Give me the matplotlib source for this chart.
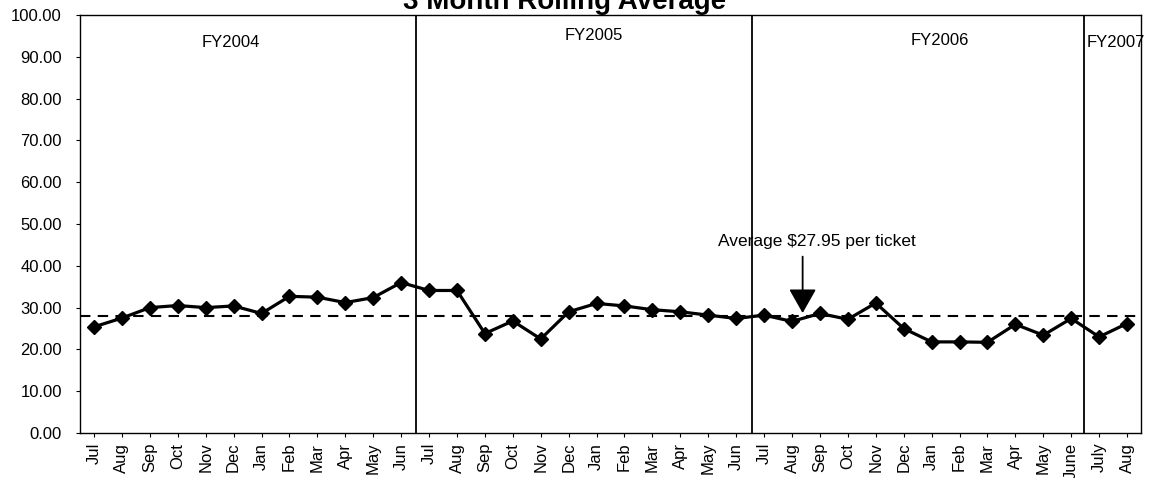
import matplotlib
matplotlib.use("Agg")
import matplotlib.pyplot as plt
import numpy as np

plt.rcParams['font.family'] = ['Liberation Sans', 'DejaVu Sans']

# month labels, FY2004 .. FY2007
months = ['Jul', 'Aug', 'Sep', 'Oct', 'Nov', 'Dec', 'Jan', 'Feb', 'Mar', 'Apr', 'May', 'Jun',
          'Jul', 'Aug', 'Sep', 'Oct', 'Nov', 'Dec', 'Jan', 'Feb', 'Mar', 'Apr', 'May', 'Jun',
          'Jul', 'Aug', 'Sep', 'Oct', 'Nov', 'Dec', 'Jan', 'Feb', 'Mar', 'Apr', 'May', 'June',
          'July', 'Aug']
rolling_avg = [25.4, 27.5, 30.0, 30.5, 30.0, 30.4, 28.6, 32.7, 32.5, 31.2, 32.4, 36.0,
               34.1, 34.1, 23.8, 26.8, 22.5, 29.0, 31.0, 30.4, 29.5, 29.0, 28.2, 27.4,
               28.2, 26.7, 28.6, 27.2, 31.1, 25.0, 21.8, 21.8, 21.7, 26.0, 23.4, 27.4,
               23.0, 26.2]
average = 27.95
fy_labels = ['FY2004', 'FY2005', 'FY2006', 'FY2007']
fy_label_pos = [(4.9, 93.5), (17.9, 95.2), (30.3, 94.0), (36.6, 93.5)]
fy_bounds = [11.55, 23.55, 35.45]

fig = plt.figure(figsize=(11.55, 4.78), dpi=100)
ax = fig.add_axes([0.0693, 0.0941, 0.9186, 0.8745])

x = np.arange(len(months))
ax.plot(x, rolling_avg, '-D', color='black', lw=2.3, markersize=7)
ax.axhline(average, color='black', lw=1.5, ls=(0, (5, 3.5)))

for b in fy_bounds:
    ax.axvline(b, color='black', lw=1.3)

for lab, (lx, ly) in zip(fy_labels, fy_label_pos):
    ax.text(lx, ly, lab, ha='center', va='center', fontsize=12, clip_on=False)

ax.text(25.9, 45.8, 'Average $27.95 per ticket', ha='center', va='center', fontsize=12.5)
ax.annotate('', xy=(25.38, 28.7), xytext=(25.38, 42.2),
            arrowprops=dict(arrowstyle='-|>,head_length=1.5,head_width=0.85',
                            lw=1.3, color='black', shrinkA=0, shrinkB=0))

ax.set_xlim(-0.5, len(months) - 0.5)
ax.set_ylim(0, 100)
ax.set_yticks(np.arange(0, 101, 10))
ax.set_yticklabels([f'{v:.2f}' for v in np.arange(0, 101, 10)], fontsize=12)
ax.set_xticks(x)
ax.set_xticklabels(months, rotation=90, fontsize=12)
ax.tick_params(axis='y', length=3, width=0.8, pad=10)
ax.tick_params(axis='x', length=3, width=0.8, pad=4)
for s in ax.spines.values():
    s.set_linewidth(1.0)

fig.text(0.489, 1 - 9 / 478, '3 Month Rolling Average', ha='center', va='baseline',
         fontsize=20, fontweight='bold')

fig.savefig('out.png', dpi=100)
